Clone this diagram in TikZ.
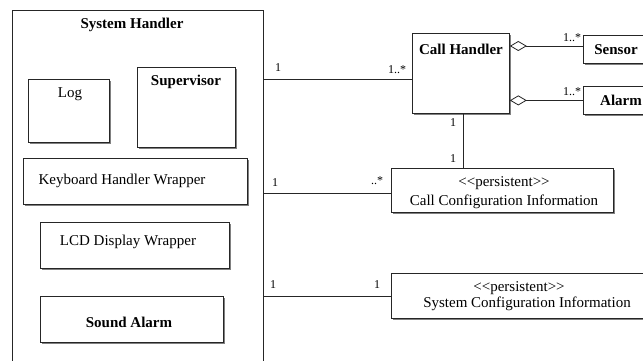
\documentclass[tikz,border=0pt]{standalone}
\usepackage{fontspec}
\setmainfont{Liberation Serif}
\usetikzlibrary{shadows,arrows.meta}
\tikzset{
  box/.style={draw=black!85, line width=0.8pt, fill=white, inner sep=0pt,
    drop shadow={shadow xshift=2pt, shadow yshift=-2pt, fill=black!50, opacity=1}},
  bigbox/.style={draw=black!85, line width=0.9pt, fill=white, inner sep=0pt},
  txt/.style={font=\fontsize{15}{17}\selectfont, inner sep=0pt},
  btxt/.style={font=\fontsize{15}{17}\selectfont\bfseries, inner sep=0pt},
  mult/.style={font=\fontsize{12}{14}\selectfont, inner sep=0pt},
  conn/.style={draw=black!85, line width=0.8pt},
  agg/.style={conn, {Diamond[open,length=17pt,width=10pt,line width=0.8pt]}-}
}
\begin{document}
\begin{tikzpicture}[x=1pt,y=-1pt]
\clip (0,0) rectangle (643,361);
\fill[white] (0,0) rectangle (643,361);
% System Handler container
\node[bigbox, anchor=north west, minimum width=251pt, minimum height=370pt] (SH) at (12,10) {};
\node[btxt] (SHt) at (132,25) {System Handler};
% inner boxes
\node[box, anchor=north west, minimum width=81pt, minimum height=63pt] (LOG) at (28,79) {};
\node[txt] (LOGt) at (70,94) {Log};
\node[box, anchor=north west, minimum width=98pt, minimum height=80pt] (SUP) at (137,67) {};
\node[btxt] (SUPt) at (186,82) {Supervisor};
\node[box, anchor=north west, minimum width=224pt, minimum height=46pt] (KBW) at (23,158) {};
\node[txt] (KBWt) at (122,181) {Keyboard Handler Wrapper};
\node[box, anchor=north west, minimum width=189pt, minimum height=46pt] (LCD) at (40,222) {};
\node[txt] (LCDt) at (128,242) {LCD Display Wrapper};
\node[box, anchor=north west, minimum width=183pt, minimum height=46pt] (SA) at (40,296) {};
\node[btxt] (SAt) at (129,322) {Sound Alarm};
% right side classes
\node[box, anchor=north west, minimum width=97pt, minimum height=80pt] (CH) at (412,33) {};
\node[btxt] (CHt) at (461,49) {Call Handler};
\node[box, anchor=north west, minimum width=80pt, minimum height=28pt] (SEN) at (583,35) {};
\node[btxt] (SENt) at (616,50) {Sensor};
\node[box, anchor=north west, minimum width=80pt, minimum height=28pt] (ALM) at (583,86) {};
\node[btxt] (ALMt) at (621,100) {Alarm};
\node[box, anchor=north west, minimum width=222pt, minimum height=44pt] (CC) at (391,168) {};
\node[txt] (CCt1) at (504,183) {{<}{<}persistent{>}{>}};
\node[txt] (CCt2) at (504,202) {Call Configuration Information};
\node[box, anchor=north west, minimum width=272pt, minimum height=45pt] (SC) at (391,273) {};
\node[txt] (SCt1) at (519,288) {{<}{<}persistent{>}{>}};
\node[txt] (SCt2) at (527,304) {System Configuration Information};
% helper coordinates
\coordinate (yA) at (0,79);
\coordinate (yB) at (0,193);
\coordinate (yS) at (0,46);
\coordinate (xV) at (463,0);
% connectors
\draw[conn] (SH.east |- yA) -- (CH.west |- yA);
\draw[conn] (SH.east |- yB) -- (CC.west |- yB);
\draw[conn] (SH.east |- SC.west) -- (SC.west);
\draw[conn] (CH.south -| xV) -- (CC.north -| xV);
\draw[agg] (CH.east |- yS) -- (SEN.west |- yS);
\draw[agg] (CH.east |- ALM.west) -- (ALM.west);
% multiplicities
\node[mult] (m1) at (278,68) {1};
\node[mult] (m2) at (397,70) {1..*};
\node[mult] (m3) at (275,183) {1};
\node[mult] (m4) at (377,181) {..*};
\node[mult] (m5) at (273,285) {1};
\node[mult] (m6) at (377,285) {1};
\node[mult] (m7) at (453,123) {1};
\node[mult] (m8) at (453,159) {1};
\node[mult] (m9) at (572,38) {1..*};
\node[mult] (m10) at (572,92) {1..*};
\end{tikzpicture}
\end{document}
